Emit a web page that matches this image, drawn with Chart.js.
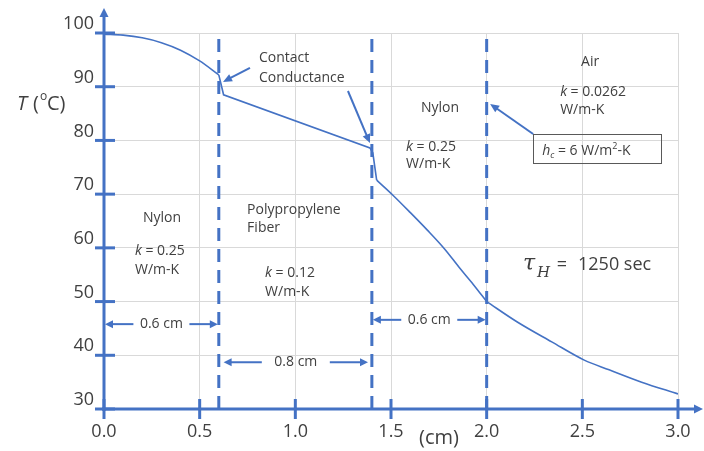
<!DOCTYPE html>
<html>
<head>
<meta charset="utf-8">
<script src="https://cdn.jsdelivr.net/npm/chart.js@4.4.1/dist/chart.umd.min.js"></script>
<style>
  html, body { margin: 0; padding: 0; background: #fff; }
  #wrap { width: 704px; height: 451px; }
</style>
</head>
<body>
<div id="wrap"><canvas id="tempChart" width="704" height="451"></canvas></div>
<script>
// position through the layers (cm) and temperature (deg C)
var positionCm = [0, 0.1, 0.2, 0.3, 0.4, 0.5, 0.6, 0.625, 1.39, 1.405, 1.425, 1.51, 1.6, 1.69, 1.78, 1.86, 1.93, 2.0, 2.16, 2.34, 2.51, 2.64, 2.81, 3.0];
var temperatureC = [99.8, 99.6, 99.1, 98.2, 96.8, 94.8, 92.2, 88.5, 78.6, 77.7, 72.6, 69.8, 66.6, 63.3, 59.8, 56.2, 53.2, 50.0, 46.2, 42.5, 39.1, 37.3, 35.0, 32.8];
// index ranges of the curve pieces: smooth inside a layer, straight across the contact drops
var curvePieces = [[0, 6, true], [6, 10, false], [10, 17, true], [17, 23, true]];
var boundariesCm = [0.6, 1.4, 2.0];
var xTicks = ['0.0', '0.5', '1.0', '1.5', '2.0', '2.5', '3.0'];
var yTicks = ['30', '40', '50', '60', '70', '80', '90', '100'];

var blue = '#4472C4';
var textColor = '#404040';
var font = '"Open Sans", "Noto Sans", sans-serif';

var datasets = [];
curvePieces.forEach(function (p) {
  var pts = [];
  for (var i = p[0]; i <= p[1]; i++) pts.push({ x: positionCm[i], y: temperatureC[i] });
  datasets.push({
    label: 'T',
    data: pts,
    showLine: true,
    borderColor: blue,
    borderWidth: 1.6,
    pointRadius: 0,
    cubicInterpolationMode: p[2] ? 'monotone' : 'default',
    tension: 0
  });
});
boundariesCm.forEach(function (b) {
  datasets.push({
    label: 'boundary ' + b,
    data: [{ x: b, y: 30 }, { x: b, y: 99.1 }],
    showLine: true,
    borderColor: blue,
    borderWidth: 3,
    borderDash: [13, 8],
    pointRadius: 0
  });
});

function arrow(ctx, x1, y1, x2, y2, head, width) {
  var a = Math.atan2(y2 - y1, x2 - x1);
  ctx.beginPath();
  ctx.moveTo(x1, y1);
  ctx.lineTo(x2 - Math.cos(a) * head * 0.7, y2 - Math.sin(a) * head * 0.7);
  ctx.stroke();
  ctx.beginPath();
  ctx.moveTo(x2, y2);
  ctx.lineTo(x2 - Math.cos(a) * head + Math.sin(a) * width, y2 - Math.sin(a) * head - Math.cos(a) * width);
  ctx.lineTo(x2 - Math.cos(a) * head - Math.sin(a) * width, y2 - Math.sin(a) * head + Math.cos(a) * width);
  ctx.closePath();
  ctx.fill();
}

var decorations = {
  id: 'decorations',
  afterDatasetsDraw: function (chart) {
    var ctx = chart.ctx;
    var xs = chart.scales.x, ys = chart.scales.y;
    var px = function (v) { return xs.getPixelForValue(v); };
    var py = function (v) { return ys.getPixelForValue(v); };
    var x0 = px(0), y0 = py(30);

    ctx.save();
    ctx.strokeStyle = blue;
    ctx.fillStyle = blue;
    ctx.lineCap = 'butt';

    // axes
    ctx.lineWidth = 3;
    arrow(ctx, x0, y0 + 2, x0, 8, 9, 4.5);
    arrow(ctx, x0 - 2, y0, 703, y0, 9, 4.5);

    // tick marks
    ctx.lineWidth = 3;
    yTicks.forEach(function (t) {
      var y = py(parseFloat(t));
      ctx.beginPath(); ctx.moveTo(x0 - 9, y); ctx.lineTo(x0 + 11, y); ctx.stroke();
    });
    xTicks.forEach(function (t) {
      var x = px(parseFloat(t));
      ctx.beginPath(); ctx.moveTo(x, y0 - 10); ctx.lineTo(x, y0 + 10); ctx.stroke();
    });

    // tick labels
    ctx.fillStyle = textColor;
    ctx.font = '18px ' + font;
    ctx.textBaseline = 'middle';
    ctx.textAlign = 'right';
    yTicks.forEach(function (t) { ctx.fillText(t, x0 - 10, py(parseFloat(t)) - 9); });
    ctx.textAlign = 'center';
    xTicks.forEach(function (t) { ctx.fillText(t, px(parseFloat(t)), y0 + 23); });

    // axis titles
    ctx.textAlign = 'left';
    ctx.font = 'italic 20px ' + font;
    ctx.fillText('T', 17, 104);
    ctx.font = '20px ' + font;
    ctx.fillText('(', 33, 104);
    ctx.font = '12px ' + font;
    ctx.fillText('o', 40, 97);
    ctx.font = '20px ' + font;
    ctx.fillText('C)', 47, 104);
    ctx.fillText('(cm)', 419, 438);

    // annotations (positions in data units)
    function text(str, x, y, align, style) {
      ctx.font = style || ('14px ' + font);
      ctx.textAlign = align || 'left';
      ctx.fillText(str, px(x), py(y));
    }
    function kLabel(val, x, y) {
      ctx.textAlign = 'left';
      ctx.font = 'italic 14px ' + font;
      ctx.fillText('k', px(x), py(y));
      var w = ctx.measureText('k').width;
      ctx.font = '14px ' + font;
      ctx.fillText(' = ' + val, px(x) + w, py(y));
    }

    text('Contact', 0.81, 95.35);
    text('Conductance', 0.81, 91.6);

    text('Nylon', 0.303, 65.6, 'center');
    kLabel('0.25', 0.162, 59.4);
    text('W/m-K', 0.162, 55.9);

    text('Polypropylene', 0.748, 67.0);
    text('Fiber', 0.748, 63.7);
    kLabel('0.12', 0.842, 55.3);
    text('W/m-K', 0.842, 51.8);

    text('Nylon', 1.756, 86.0, 'center');
    kLabel('0.25', 1.579, 78.8);
    text('W/m-K', 1.579, 75.6);

    text('Air', 2.541, 94.6, 'center');
    kLabel('0.0262', 2.384, 89.0);
    text('W/m-K', 2.384, 85.7);

    // h_c box
    ctx.strokeStyle = '#595959';
    ctx.lineWidth = 1;
    ctx.strokeRect(Math.round(px(2.243)) + 0.5, Math.round(py(81.2)) + 0.5, px(2.912) - px(2.243), py(75.8) - py(81.2));
    var bx = px(2.29), by = py(78.0);
    ctx.textAlign = 'left';
    ctx.font = 'italic 14px ' + font;
    ctx.fillText('h', bx, by);
    bx += ctx.measureText('h').width;
    ctx.font = 'italic 9px ' + font;
    ctx.fillText('c', bx, by + 4);
    bx += ctx.measureText('c').width;
    ctx.font = '14px ' + font;
    ctx.fillText(' = 6 W/m', bx, by);
    bx += ctx.measureText(' = 6 W/m').width;
    ctx.font = '9px ' + font;
    ctx.fillText('2', bx, by - 5);
    bx += ctx.measureText('2').width;
    ctx.font = '14px ' + font;
    ctx.fillText('-K', bx, by);

    // tau_H
    var tx = px(2.19), ty = py(57.0);
    ctx.font = 'italic 22px "DejaVu Serif", serif';
    ctx.fillText('\u03C4', tx, ty);
    ctx.font = 'italic 15px "DejaVu Serif", serif';
    ctx.fillText('H', tx + 14, ty + 9);
    ctx.font = '18px ' + font;
    ctx.textAlign = 'center';
    ctx.fillText('=', tx + 39, ty + 1);
    ctx.textAlign = 'left';
    ctx.fillText('1250 sec', tx + 55, ty + 1);

    // pointer arrows
    ctx.strokeStyle = blue;
    ctx.fillStyle = blue;
    ctx.lineWidth = 2;
    arrow(ctx, px(0.763), py(93.5), px(0.622), py(90.9), 9, 4);
    arrow(ctx, px(1.275), py(89.2), px(1.39), py(79.5), 9, 4);
    arrow(ctx, px(2.243), py(81.2), px(2.018), py(86.8), 9, 4);

    // dimension arrows
    function dim(label, xa, xb, y, gapL, gapR) {
      var yy = py(y), cx = (px(xa) + px(xb)) / 2;
      ctx.strokeStyle = blue;
      ctx.fillStyle = blue;
      ctx.lineWidth = 2;
      arrow(ctx, cx - gapL, yy, px(xa) + 1, yy, 8, 4);
      arrow(ctx, cx + gapR, yy, px(xb) - 1, yy, 8, 4);
      ctx.fillStyle = textColor;
      ctx.font = '14px ' + font;
      ctx.textAlign = 'center';
      ctx.fillText(label, cx, yy);
    }
    dim('0.6 cm', 0, 0.6, 45.8, 28, 28);
    dim('0.8 cm', 0.62, 1.385, 38.7, 34, 34);
    dim('0.6 cm', 1.4, 2.0, 46.6, 28, 28);

    ctx.restore();
  }
};

var ctx = document.getElementById('tempChart');
new Chart(ctx, {
  type: 'scatter',
  data: { datasets: datasets },
  options: {
    responsive: false,
    animation: false,
    layout: { padding: { left: 104, right: 26, top: 33, bottom: 42 } },
    plugins: { legend: { display: false }, tooltip: { enabled: false } },
    scales: {
      x: {
        type: 'linear', min: 0, max: 3,
        ticks: { display: false, stepSize: 0.5 },
        grid: { color: '#d9d9d9', lineWidth: 1, drawTicks: false },
        border: { display: false }
      },
      y: {
        type: 'linear', min: 30, max: 100,
        ticks: { display: false, stepSize: 10 },
        grid: { color: '#d9d9d9', lineWidth: 1, drawTicks: false },
        border: { display: false }
      }
    }
  },
  plugins: [decorations]
});
</script>
</body>
</html>
